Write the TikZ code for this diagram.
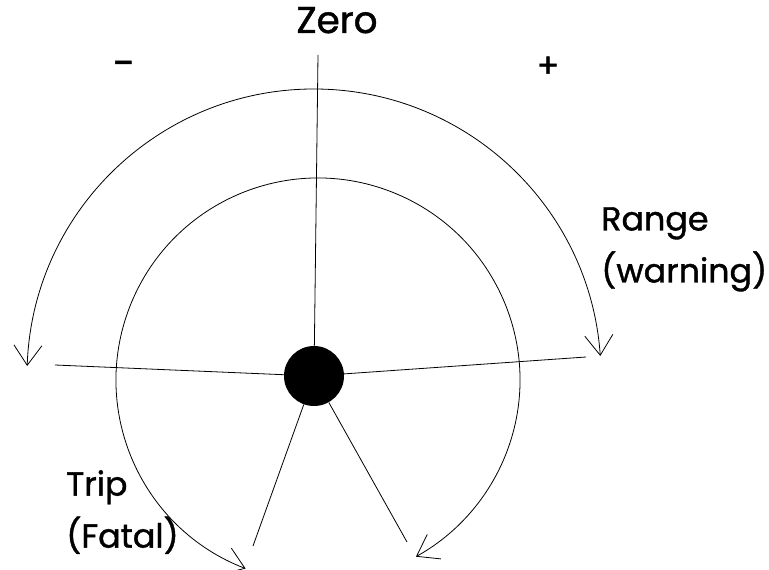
\documentclass[tikz,border=0pt]{standalone}
\usepackage{fontspec}
\setmainfont{Poppins}[FakeBold=1.2]
\usetikzlibrary{arrows.meta,positioning,calc}

\begin{document}
\begin{tikzpicture}[
    x=0.75pt, y=0.75pt,
    hub/.style={circle, fill=black, minimum size=45pt, inner sep=0pt},
    spoke/.style={line width=0.6pt},
    swing/.style={line width=0.6pt, {Straight Barb[length=15pt,width=21pt]}-{Straight Barb[length=15pt,width=21pt]}},
    note/.style={font=\fontsize{25}{39}\selectfont, align=left, inner sep=0pt}
]
\useasboundingbox (0,0) rectangle (769,569);
\node[hub] (hub) at (314,193) {};
\coordinate (top) at (318,514);
\coordinate (west) at (55,204);
\coordinate (east) at (586,212);
\coordinate (southwest) at (253,23);
\coordinate (southeast) at (407,27);
\coordinate (ring) at (318,189);

\draw[spoke] (hub) -- (top);
\draw[spoke] (hub) -- (west);
\draw[spoke] (hub) -- (east);
\draw[spoke] (hub) -- (southwest);
\draw[spoke] (hub) -- (southeast);

% outer swing: range, inner swing: trip
\draw[swing] ($(hub)+(178:287)$) arc[start angle=178, end angle=4, radius=287];
\draw[swing] ($(ring)+(249:202)$) arc[start angle=249, end angle=-61, radius=202];

\node[note, font=\fontsize{28}{39}\selectfont, anchor=base] (zero) at (337,536) {Zero};
\node[note, font=\fontsize{30}{39}\selectfont] (minus) at (124,500) {-};
\node[note] (plus) at (548,502) {+};
\node[note, anchor=north west] (range) at (601,362) {Range\\(warning)};
\node[note, anchor=north west] (trip) at (66,99) {Trip\\(Fatal)};
\end{tikzpicture}
\end{document}
